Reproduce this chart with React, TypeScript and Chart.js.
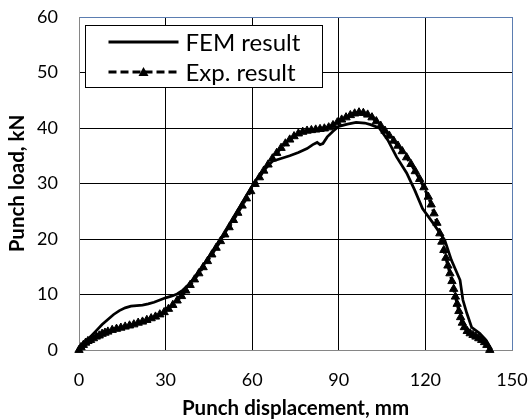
import React, { useEffect, useRef } from "react";
import { Chart, registerables } from "chart.js";

Chart.register(...registerables);

const femX = [0, 1, 2.5, 4, 6, 8, 10, 12, 14, 16, 18, 20, 22, 24, 26, 28, 30, 32, 34, 36, 38, 40, 43, 46, 50, 54, 58, 61, 64, 67, 70, 73, 76, 79, 81, 82.5, 83.5, 84.5, 86, 88, 90, 93, 96, 99, 101, 104, 107, 110, 113.5, 116.3, 119, 122.6, 126.7, 129, 132, 133, 134.3, 136, 138.8, 141, 143];
const femY = [0, 0.6, 1.5, 2.4, 3.5, 4.6, 5.5, 6.4, 7.1, 7.6, 7.9, 8.0, 8.1, 8.3, 8.6, 9.0, 9.4, 9.7, 10.1, 10.8, 11.8, 13.0, 15.2, 17.5, 20.6, 24.2, 27.8, 30.4, 32.4, 34.0, 34.5, 35.0, 35.6, 36.3, 37.0, 37.4, 37.0, 37.2, 38.4, 39.4, 40.3, 40.7, 41.0, 40.9, 40.6, 40.0, 37.8, 34.8, 31.9, 28.8, 25.5, 22.9, 19.8, 16.2, 12.6, 9.0, 6.7, 4.1, 3.0, 1.8, 0];

const expX = [0, 0.7, 1.5, 2.3, 3.1, 4, 5, 6, 7, 8, 9, 10, 11.5, 13, 14.5, 16, 17.5, 19, 20.5, 22, 23.5, 25, 26.5, 28, 29.5, 31, 32.5, 34, 35.5, 37, 38.5, 40, 41.5, 43, 44.5, 46, 47.5, 49, 50.5, 52, 53.5, 55, 56.5, 58, 59.5, 61, 62.5, 64, 65.5, 67, 68.5, 70, 71.5, 73, 74.5, 76, 77.5, 79, 80.5, 82, 83.5, 85, 86.5, 88, 89.5, 91, 92.5, 94, 95.5, 97, 98.5, 100, 101.5, 103, 104.5, 106, 107.5, 109, 110.5, 112, 113.5, 115, 116.5, 118, 119.5, 121, 122, 123, 124, 125, 125.7, 126.4, 127.1, 127.8, 128.5, 129.2, 129.8, 130.4, 131, 131.6, 132.2, 132.8, 133.5, 134.5, 135.5, 136.5, 137.5, 138.5, 139.5, 140.5, 141.3, 142.3];
const expY = [0, 0.5, 0.9, 1.3, 1.6, 1.8, 2.1, 2.4, 2.6, 2.9, 3.1, 3.3, 3.6, 3.8, 4.0, 4.2, 4.4, 4.6, 4.9, 5.1, 5.4, 5.7, 6.0, 6.4, 6.8, 7.4, 8.1, 8.9, 9.7, 10.7, 11.7, 12.7, 13.8, 14.9, 16.0, 17.2, 18.4, 19.6, 20.8, 22.1, 23.4, 24.7, 26.0, 27.3, 28.6, 29.9, 31.1, 32.3, 33.4, 34.5, 35.5, 36.4, 37.2, 37.9, 38.5, 39.0, 39.3, 39.5, 39.6, 39.7, 39.8, 39.9, 40.1, 40.5, 41.0, 41.5, 41.9, 42.3, 42.6, 42.8, 42.7, 42.4, 41.9, 41.2, 40.4, 39.5, 38.6, 37.7, 36.8, 35.8, 34.7, 33.5, 32.2, 30.8, 29.3, 27.6, 26.2, 24.6, 22.9, 21.0, 19.5, 18.0, 16.6, 15.2, 13.8, 12.4, 11.0, 9.6, 8.3, 7.0, 5.9, 4.9, 4.1, 3.4, 3.0, 2.7, 2.4, 2.1, 1.8, 1.4, 0.9, 0];

const seriesNames = ["FEM result", "Exp. result"];
const xTitle = "Punch displacement, mm";
const yTitle = "Punch load, kN";

const FONT = "Lato";
const BLUE = "#5b7db1";
const GREY = "#868686";

const legendPlugin = {
  id: "boxLegend",
  afterDraw(chart: any) {
    const { ctx, chartArea } = chart;
    const x0 = chartArea.left + 6.5;
    const y0 = chartArea.top + 8.5;
    const w = 237;
    const h = 62;
    ctx.save();
    ctx.fillStyle = "#ffffff";
    ctx.fillRect(x0, y0, w, h);
    ctx.strokeStyle = "#000";
    ctx.lineWidth = 1;
    ctx.strokeRect(x0, y0, w, h);
    const r1 = y0 + 16.5;
    const r2 = y0 + 46.5;
    const lx1 = x0 + 23;
    const lx2 = x0 + 93;
    ctx.lineWidth = 3;
    ctx.beginPath();
    ctx.moveTo(lx1, r1);
    ctx.lineTo(lx2, r1);
    ctx.stroke();
    ctx.setLineDash([8, 4]);
    ctx.beginPath();
    ctx.moveTo(lx1, r2);
    ctx.lineTo(lx2, r2);
    ctx.stroke();
    ctx.setLineDash([]);
    const cx = (lx1 + lx2) / 2;
    ctx.fillStyle = "#000";
    ctx.beginPath();
    ctx.moveTo(cx, r2 - 5);
    ctx.lineTo(cx + 5, r2 + 4);
    ctx.lineTo(cx - 5, r2 + 4);
    ctx.closePath();
    ctx.fill();
    ctx.font = `24px ${FONT}`;
    ctx.textBaseline = "middle";
    ctx.textAlign = "left";
    ctx.fillText(seriesNames[0], x0 + 100, r1 + 1);
    ctx.fillText(seriesNames[1], x0 + 100, r2 + 1);
    ctx.restore();
  },
};

function App() {
  const ref = useRef<HTMLCanvasElement | null>(null);
  useEffect(() => {
    if (!ref.current) return;
    const chart = new Chart(ref.current, {
      type: "line",
      data: {
        datasets: [
          {
            label: seriesNames[0],
            data: femX.map((x, i) => ({ x, y: femY[i] })),
            borderColor: "#000",
            borderWidth: 2.75,
            pointRadius: 0,
            tension: 0,
            fill: false,
          },
          {
            label: seriesNames[1],
            data: expX.map((x, i) => ({ x, y: expY[i] })),
            borderColor: "#000",
            borderWidth: 3,
            borderDash: [6, 4],
            pointStyle: "triangle",
            pointRadius: 4.8,
            pointBackgroundColor: "#000",
            pointBorderColor: "#000",
            pointBorderWidth: 1,
            tension: 0,
            fill: false,
            clip: false as any,
          },
        ],
      },
      options: {
        responsive: false,
        animation: false,
        layout: { padding: { top: 17, right: 18, left: 0, bottom: 0 } },
        plugins: { legend: { display: false }, tooltip: { enabled: false } },
        scales: {
          x: {
            type: "linear",
            min: 0,
            max: 150,
            ticks: { stepSize: 30, color: "#000", font: { family: FONT, size: 18 }, padding: 19, maxRotation: 0 },
            grid: {
              drawTicks: false,
              lineWidth: 1,
              color: (c: any) => (c.tick && c.tick.value === 0 ? GREY : c.tick && c.tick.value === 150 ? BLUE : "#000"),
            },
            border: { color: GREY, width: 1 },
            title: { display: true, text: xTitle, color: "#000", font: { family: FONT, size: 20.5, weight: "bold", lineHeight: 1 }, padding: { top: 0, bottom: 0 } },
            afterFit: (s: any) => { s.height = 69; s.paddingLeft = 0; s.paddingRight = 0; },
          },
          y: {
            type: "linear",
            min: 0,
            max: 60,
            ticks: { stepSize: 10, color: "#000", font: { family: FONT, size: 18 }, padding: 21 },
            grid: {
              drawTicks: false,
              lineWidth: 1,
              color: (c: any) => (c.tick && c.tick.value === 0 ? GREY : c.tick && c.tick.value === 60 ? BLUE : "#000"),
            },
            border: { color: GREY, width: 1 },
            title: { display: true, text: yTitle, color: "#000", font: { family: FONT, size: 20.5, weight: "bold", lineHeight: 1 }, padding: { top: 7, bottom: 0 } },
            afterFit: (s: any) => { s.width = 79; s.paddingTop = 0; s.paddingBottom = 0; },
          },
        },
      },
      plugins: [legendPlugin],
    } as any);
    return () => chart.destroy();
  }, []);
  return (
    <div style={{ position: "fixed", left: 0, top: 0, width: 530, height: 419, background: "#fff" }}>
      <canvas ref={ref} width={530} height={419} style={{ display: "block" }} />
    </div>
  );
}

export default App;
